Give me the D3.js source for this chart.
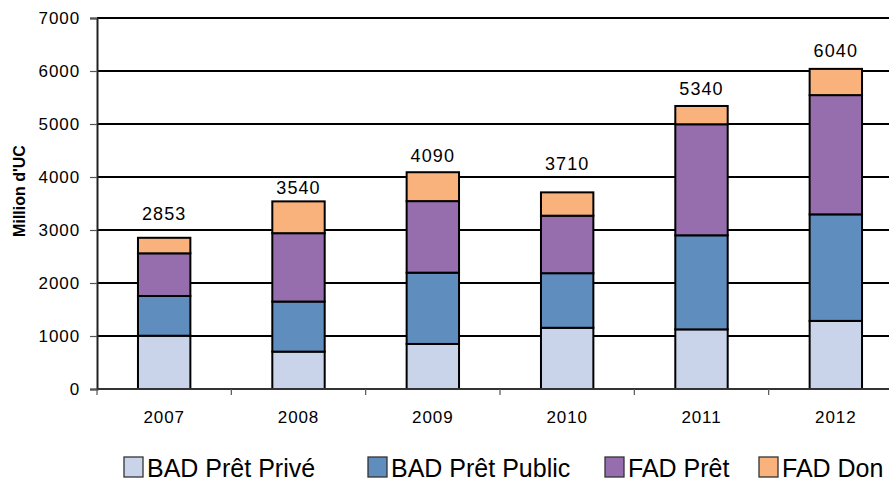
<!DOCTYPE html>
<html>
<head>
<meta charset="utf-8">
<script src="https://cdn.jsdelivr.net/npm/d3@7"></script>
<style>
  html, body { margin: 0; padding: 0; background: #fff; }
  svg { display: block; font-family: "Liberation Sans", Arial, sans-serif; }
</style>
</head>
<body>
<svg id="chart" width="889" height="480"></svg>
<script>
// ---- data ----
const years = ["2007", "2008", "2009", "2010", "2011", "2012"];
const badPrive  = [1005, 705, 850, 1155, 1125, 1285];
const badPublic = [750, 945, 1345, 1030, 1775, 2010];
const fadPret   = [805, 1290, 1350, 1085, 2095, 2250];
const fadDon    = [293, 600, 545, 440, 345, 495];
const totals    = [2853, 3540, 4090, 3710, 5340, 6040];
const seriesNames = ["BAD Prêt Privé", "BAD Prêt Public", "FAD Prêt", "FAD Don"];
const yTicks = [0, 1000, 2000, 3000, 4000, 5000, 6000, 7000];

// ---- layout / style (not data) ----
const colors = ["#C9D3EA", "#5F8DBE", "#966EAD", "#FAB27D"];
const labelGap = [18, 7, 10, 22, 11, 12];      // px between bar top and total label baseline
const legendX = [124, 368, 605, 759];
const plot = { left: 97, right: 903, top: 18, bottom: 389 };

const svg = d3.select("#chart");

const rows = years.map((yr, i) => ({
  year: yr, p0: badPrive[i], p1: badPublic[i], p2: fadPret[i], p3: fadDon[i], total: totals[i]
}));
const keys = ["p0", "p1", "p2", "p3"];
const stacked = d3.stack().keys(keys)(rows);

const x = d3.scaleBand().domain(years).range([plot.left, plot.right])
  .paddingInner(0.61).paddingOuter(0.305);
const xEdge = d3.scaleLinear().domain([0, years.length]).range([plot.left, plot.right]);
const y = d3.scaleLinear().domain([0, 7000]).range([plot.bottom, plot.top]);

// gridlines
svg.append("g").selectAll("line").data(yTicks.filter(d => d > 0)).join("line")
  .attr("x1", plot.left).attr("x2", plot.right)
  .attr("y1", d => y(d)).attr("y2", d => y(d))
  .attr("stroke", "#000").attr("stroke-width", 2);

// bars
svg.append("g").selectAll("g").data(stacked).join("g")
  .attr("fill", (d, i) => colors[i])
  .selectAll("rect").data(d => d).join("rect")
  .attr("x", d => x(d.data.year))
  .attr("width", x.bandwidth())
  .attr("y", d => y(d[1]))
  .attr("height", d => y(d[0]) - y(d[1]))
  .attr("stroke", "#000").attr("stroke-width", 2);

// y axis
const yAxis = d3.axisLeft(y).tickValues(yTicks).tickSize(7).tickPadding(10).tickFormat(d3.format("d"));
const gy = svg.append("g").attr("transform", `translate(${plot.left},0)`).call(yAxis);
gy.select(".domain").attr("stroke", "#222").attr("stroke-width", 2);
gy.selectAll(".tick line").attr("stroke", "#555").attr("stroke-width", 1.2);
gy.selectAll(".tick text").attr("font-size", 17).attr("fill", "#000")
  .attr("font-family", "Liberation Sans, Arial, sans-serif").attr("letter-spacing", 0.9);

// x axis
svg.append("line").attr("x1", plot.left).attr("x2", plot.right)
  .attr("y1", plot.bottom).attr("y2", plot.bottom)
  .attr("stroke", "#333").attr("stroke-width", 2);
svg.append("g").selectAll("line").data(d3.range(years.length + 1)).join("line")
  .attr("x1", d => xEdge(d)).attr("x2", d => xEdge(d))
  .attr("y1", plot.bottom).attr("y2", plot.bottom + 6)
  .attr("stroke", "#555").attr("stroke-width", 1.2);
svg.append("g").selectAll("text").data(years).join("text")
  .attr("x", d => x(d) + x.bandwidth() / 2)
  .attr("y", 423)
  .attr("text-anchor", "middle")
  .attr("font-size", 17).attr("letter-spacing", 0.9)
  .text(d => d);

// total labels
svg.append("g").selectAll("text").data(rows).join("text")
  .attr("x", d => x(d.year) + x.bandwidth() / 2)
  .attr("y", (d, i) => y(d.total) - labelGap[i])
  .attr("text-anchor", "middle")
  .attr("font-size", 18).attr("letter-spacing", 1.1)
  .text(d => d.total);

// y title
svg.append("text")
  .attr("transform", "translate(25,191) rotate(-90)")
  .attr("text-anchor", "middle")
  .attr("font-size", 16).attr("font-weight", "bold")
  .text("Million d'UC");

// legend
const lg = svg.append("g").selectAll("g").data(seriesNames).join("g")
  .attr("transform", (d, i) => `translate(${legendX[i]},457)`);
lg.append("rect").attr("width", 19).attr("height", 20)
  .attr("fill", (d, i) => colors[i]).attr("stroke", "#333").attr("stroke-width", 1.3);
lg.append("text").attr("x", 23).attr("y", 19.5)
  .attr("font-size", 25).text(d => d);
</script>
</body>
</html>
